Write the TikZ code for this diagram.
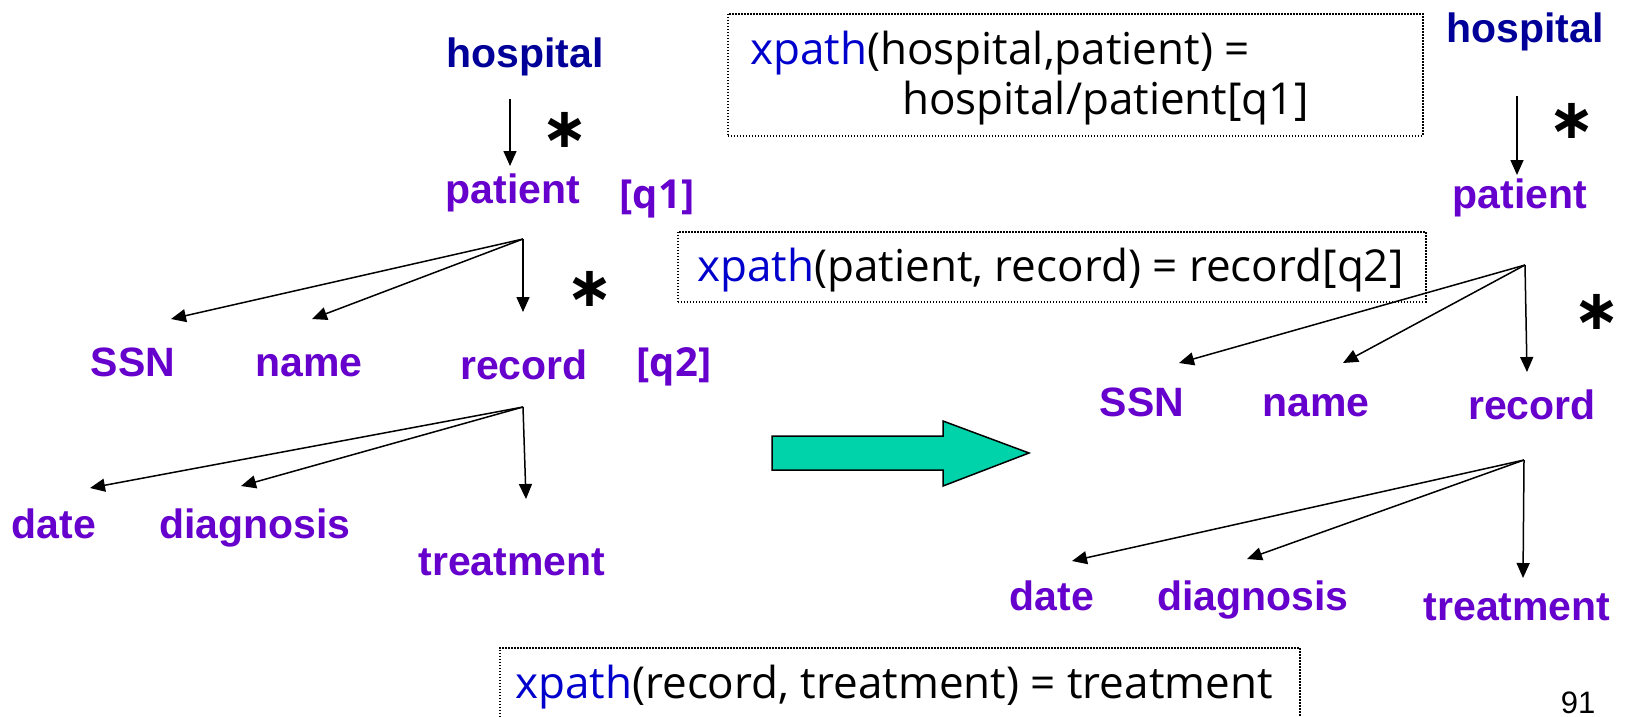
\documentclass[tikz,border=0pt]{standalone}
\usepackage{fontspec}
\setmainfont{Liberation Sans}
\newfontfamily\boxfont{Open Sans}
\newfontfamily\starfont{DejaVu Sans}
\usetikzlibrary{arrows.meta}
\definecolor{purp}{HTML}{6600CC}
\definecolor{dblue}{HTML}{000099}
\definecolor{xblue}{HTML}{0000CC}
\definecolor{bigarrow}{HTML}{00D2AA}
\begin{document}
\begin{tikzpicture}[x=1pt,y=-1pt,
  lbl/.style={font=\fontsize{41}{41}\selectfont\bfseries, text=purp, inner sep=0pt, anchor=base},
  rootlbl/.style={lbl, text=dblue},
  edge/.style={line width=1.5pt, -{Triangle[length=15pt,width=13pt]}},
  xbox/.style={draw, line width=1.5pt, dash pattern=on 1.5pt off 1.5pt, anchor=north west, inner sep=0pt},
  xtext/.style={font=\boxfont\fontsize{44}{44}\selectfont, inner sep=0pt, anchor=base west},
  starlbl/.style={font=\starfont\bfseries\fontsize{56}{56}\selectfont, inner sep=0pt},
  qlbl/.style={font=\boxfont\bfseries\fontsize{40}{40}\selectfont, text=purp, inner sep=0pt, anchor=base}
]
\useasboundingbox (0,0) rectangle (1629,716);

% ---------- left tree ----------
\node[rootlbl] (hosL) at (525,67) {hospital};
\node[lbl] (patL) at (513,203) {patient};
\node[qlbl] (q1) at (657,208) {[q1]};
\node[lbl] (ssnL) at (133,376) {SSN};
\node[lbl] (nameL) at (309,376) {name};
\node[lbl] (recL) at (524,379) {record};
\node[qlbl] (q2) at (674,376) {[q2]};
\node[lbl] (dateL) at (54,538) {date};
\node[lbl] (diagL) at (255,538) {diagnosis};
\node[lbl] (treatL) at (512,575) {treatment};
\node[starlbl] (s1L) at (565,130) {∗};
\node[starlbl] (s2L) at (590,289) {∗};

\coordinate (hLs) at (510,99);
\coordinate (pLt) at (510,166);
\coordinate (pLb) at (523,239);
\coordinate (ssnLt) at (171,319);
\coordinate (nameLt) at (312,319);
\coordinate (recLt) at (523,312);
\coordinate (rLb) at (523,407);
\coordinate (dateLt) at (90,488);
\coordinate (diagLt) at (241,486);
\coordinate (treatLt) at (526,499);

\draw[edge] (hLs) -- (pLt);
\draw[edge] (pLb) -- (ssnLt);
\draw[edge] (pLb) -- (nameLt);
\draw[edge] (pLb) -- (recLt);
\draw[edge] (rLb) -- (dateLt);
\draw[edge] (rLb) -- (diagLt);
\draw[edge] (rLb) -- (treatLt);

% ---------- boxes ----------
\node[xbox, minimum width=695pt, minimum height=122pt] (box1) at (727,13) {};
\node[xtext] (b1a) at (750,64) {\textcolor{xblue}{xpath}(hospital,patient) =};
\node[xtext] (b1b) at (902,114) {hospital/patient[q1]};

\node[xbox, minimum width=748pt, minimum height=70pt] (box2) at (677,231) {};
\node[xtext] (b2) at (697,281) {\textcolor{xblue}{xpath}(patient, record) = record[q2]};

\node[xbox, minimum width=800pt, minimum height=90pt] (box3) at (499,647) {};
\node[xtext] (b3) at (515,698) {\textcolor{xblue}{xpath}(record, treatment) = treatment};

\node[font=\fontsize{31}{31}\selectfont, inner sep=0pt, anchor=base] (pg) at (1578,713) {91};

% ---------- big arrow ----------
\draw[line width=1.5pt, fill=bigarrow, line join=miter]
  (772,436) -- (943,436) -- (943,421) -- (1029,453) -- (943,486) -- (943,470) -- (772,470) -- cycle;

% ---------- right tree ----------
\node[rootlbl] (hosR) at (1525,42) {hospital};
\node[lbl] (patR) at (1520,208) {patient};
\node[lbl] (ssnR) at (1142,416) {SSN};
\node[lbl] (nameR) at (1316,416) {name};
\node[lbl] (recR) at (1532,419) {record};
\node[lbl] (dateR) at (1052,610) {date};
\node[lbl] (diagR) at (1253,610) {diagnosis};
\node[lbl] (treatR) at (1517,620) {treatment};
\node[starlbl] (s1R) at (1572,121) {∗};
\node[starlbl] (s2R) at (1597,312) {∗};

\coordinate (hRs) at (1517,96);
\coordinate (pRt) at (1517,175);
\coordinate (pRb) at (1525,265);
\coordinate (ssnRt) at (1179,363);
\coordinate (nameRt) at (1343,363);
\coordinate (recRt) at (1527,372);
\coordinate (rRb) at (1524,460);
\coordinate (dateRt) at (1072,561);
\coordinate (diagRt) at (1247,559);
\coordinate (treatRt) at (1523,578);

\draw[edge] (hRs) -- (pRt);
\draw[edge] (pRb) -- (ssnRt);
\draw[edge] (pRb) -- (nameRt);
\draw[edge] (pRb) -- (recRt);
\draw[edge] (rRb) -- (dateRt);
\draw[edge] (rRb) -- (diagRt);
\draw[edge] (rRb) -- (treatRt);
\end{tikzpicture}
\end{document}
